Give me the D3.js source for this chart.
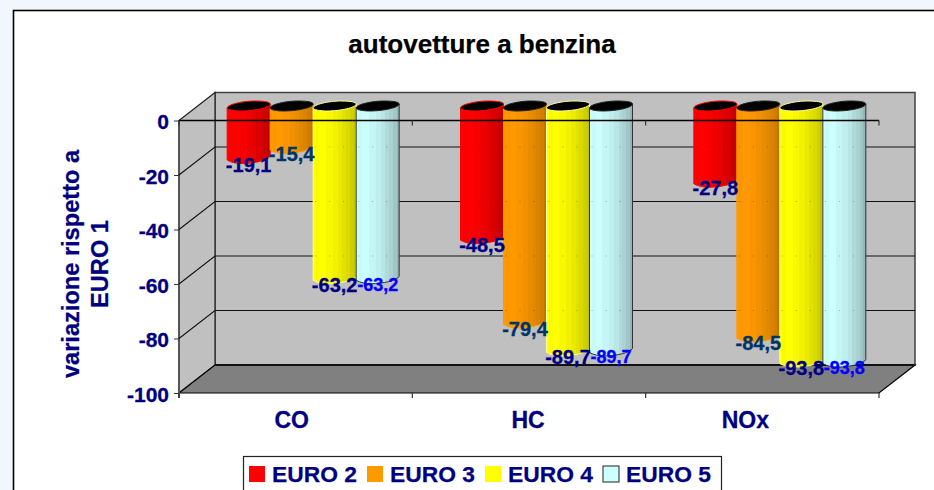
<!DOCTYPE html>
<html><head><meta charset="utf-8">
<script src="https://cdn.jsdelivr.net/npm/d3@7"></script>
<style>
html,body{margin:0;padding:0;background:#f2f7fd;overflow:hidden}
svg{display:block}
text{font-family:"Liberation Sans",Arial,sans-serif;font-weight:bold}
</style></head><body>
<div id="chart"></div>
<script>
const categories = ["CO","HC","NOx"];
const seriesNames = ["EURO 2","EURO 3","EURO 4","EURO 5"];
const euro2 = [-19.1,-48.5,-27.8];
const euro3 = [-15.4,-79.4,-84.5];
const euro4 = [-63.2,-89.7,-93.8];
const euro5 = [-63.2,-89.7,-93.8];
const seriesValues = [euro2,euro3,euro4,euro5];
const yTicks = [0,-20,-40,-60,-80,-100];
const baseColors = ["#ff0000","#ff9900","#ffff00","#ccffff"];
const darkColors = ["#b00000","#b86e00","#b8b800","#8aa8a8"];
const edgeColors = ["#ff0000","#ff9900","#ffff99","#333333"];
const labelColors = ["#000080","#003366","#000080","#0000ff"];
const labelSizes = [20,20,20,18];
const bandStops = [0,.06,.14,.3,.45,.58,.68,.76,.86,.94,1];
const bandShade = [0,.06,0,.1,.2,.3,.42,.52,.66,.85];
const categoryNudge = [-4,-1,-17];

const W=934,H=490, navy="#000080";
const depthX=36, depthY=-28;
const svg=d3.select("#chart").append("svg").attr("width",W).attr("height",H);
const defs=svg.append("defs");

const y=d3.scaleLinear().domain([0,-100]).range([120.5,393]);
const x=d3.scaleBand().domain(categories).range([179,879]);
const barBand=d3.scaleBand().domain(seriesNames).range([-86.5,85.5]);
const midX=depthX/2, midY=depthY/2;

// chart area
svg.append("rect").attr("x",13.5).attr("y",10.5).attr("width",W).attr("height",H)
  .attr("fill","#fff").attr("stroke","#000").attr("stroke-width",1.6);

svg.append("text").attr("x",482).attr("y",53).attr("text-anchor","middle")
  .attr("font-size",26).attr("fill","#000").attr("stroke","#000").attr("stroke-width",0.25).text("autovetture a benzina");

const x0=x.range()[0],x1=x.range()[1],yTop=y(0),yBot=y(-100);
const poly=p=>"M"+p.map(d=>d.join(",")).join("L")+"Z";
// back wall
svg.append("path").attr("d",poly([[x0+depthX,yTop+depthY],[x1+depthX,yTop+depthY],[x1+depthX,yBot+depthY],[x0+depthX,yBot+depthY]]))
  .attr("fill","#c0c0c0").attr("stroke","#404040").attr("stroke-width",1.5);
// side wall
svg.append("path").attr("d",poly([[x0,yTop],[x0+depthX,yTop+depthY],[x0+depthX,yBot+depthY],[x0,yBot]]))
  .attr("fill","#c0c0c0").attr("stroke","#222").attr("stroke-width",1.2);
// floor
svg.append("path").attr("d",poly([[x0,yBot],[x0+depthX,yBot+depthY],[x1+depthX,yBot+depthY],[x1,yBot]]))
  .attr("fill","#808080").attr("stroke","#000").attr("stroke-width",1.2);
svg.append("line").attr("x1",x0+depthX).attr("x2",x1+depthX).attr("y1",yBot+depthY).attr("y2",yBot+depthY)
  .attr("stroke","#111").attr("stroke-width",2);
svg.append("line").attr("x1",x0).attr("x2",x0).attr("y1",yTop).attr("y2",yBot+5)
  .attr("stroke","#555").attr("stroke-width",2);

// grid lines
const grid=svg.append("g").attr("fill","none").attr("stroke","#111").attr("stroke-width",1.1);
yTicks.filter(t=>t!==0&&t!==-100).forEach(t=>{
  grid.append("path").attr("d",`M${x0},${y(t)}L${x0+depthX},${y(t)+depthY}L${x1+depthX},${y(t)+depthY}`);
});

// gradients
seriesNames.forEach((s,i)=>{
  const g=defs.append("linearGradient").attr("id","band"+i);
  const c=d3.interpolateRgb(baseColors[i],darkColors[i]);
  bandShade.forEach((v,k)=>{
    g.append("stop").attr("offset",bandStops[k]).attr("stop-color",c(v));
    g.append("stop").attr("offset",bandStops[k+1]).attr("stop-color",c(v));
  });
});

// bars
const barsG=svg.append("g");
seriesNames.forEach((s,i)=>{
  categories.forEach((cat,j)=>{
    const v=seriesValues[i][j];
    const w=barBand.bandwidth();
    const cx=x(cat)+x.bandwidth()/2+midX+barBand(s)+w/2;
    const cy=y(0)+midY;
    const yb=y(v)+midY;
    const h=w/2;
    const g=barsG.append("g").attr("transform",`translate(${cx},0)`);
    g.append("path")
      .attr("d",`M${-h},${cy+1.5}L${-h},${yb+1.5}C${-h+4},${yb+4} ${-12},${yb+5} ${-6},${yb+5}C${4},${yb+5} ${h-2},${yb+2} ${h},${yb-2.5}L${h},${cy-2.5}Z`)
      .attr("fill",`url(#band${i})`).attr("stroke",edgeColors[i]).attr("stroke-width",1);
    // faint traces of the back grid showing through the bar
    yTicks.filter(t=>t!==0&&y(t)+depthY<yb-4).forEach(t=>{
      g.append("line").attr("x1",-h+2).attr("x2",h-1).attr("y1",y(t)+depthY).attr("y2",y(t)+depthY)
        .attr("stroke","#000").attr("stroke-opacity",.3).attr("stroke-dasharray","1 13");
    });
    g.append("path")
      .attr("d",`M${-h},${cy+1.5}C${-h},${cy-2} ${-6},${cy-5.5} 6,${cy-5.5}C16,${cy-5.5} ${h},${cy-4.5} ${h},${cy-2.5}C${h},${cy+1} ${6},${cy+4.5} ${-8},${cy+4.5}C${-14},${cy+4.5} ${-h},${cy+3.5} ${-h},${cy+1.5}Z`)
      .attr("fill","#000").attr("stroke",i===3||i===1?"#222":edgeColors[i]).attr("stroke-width",1);
  });
});

// front axis line at zero
svg.append("line").attr("x1",x0).attr("x2",x1).attr("y1",y(0)).attr("y2",y(0)).attr("stroke","#000").attr("stroke-width",1.3);

// category boundary ticks
const boundaries=[x0,...categories.map(c=>x(c)+x.bandwidth())];
[y(0),yBot].forEach(yy=>{
  svg.append("g").selectAll("line").data(boundaries).join("line")
    .attr("x1",d=>d).attr("x2",d=>d).attr("y1",yy).attr("y2",yy+5).attr("stroke","#333").attr("stroke-width",1.2);
});

// value axis
const ay=svg.append("g").attr("transform",`translate(${x0},0)`)
  .call(d3.axisLeft(y).tickValues(yTicks).tickSize(5).tickPadding(5).tickFormat(d=>String(d)));
ay.select(".domain").remove();
ay.selectAll("line").attr("stroke","#333");
ay.selectAll("text").attr("font-size",21).attr("fill",navy).attr("stroke",navy).attr("stroke-width",0.3)
  .attr("y",1.5)
  .style("font-family",'"Liberation Sans",Arial,sans-serif').style("font-weight","bold");

// category axis labels
const ax=svg.append("g").attr("transform",`translate(0,${yBot})`)
  .call(d3.axisBottom(x).tickSize(0).tickPadding(0));
ax.select(".domain").remove();
ax.selectAll("text").attr("font-size",23).attr("fill",navy).attr("stroke",navy).attr("stroke-width",0.3)
  .attr("y",19).attr("x",(d,i)=>categoryNudge[i])
  .style("font-family",'"Liberation Sans",Arial,sans-serif').style("font-weight","bold");

// axis title
[["variazione rispetto a",79],["EURO 1",108]].forEach(([t,px])=>{
  svg.append("text").attr("transform",`translate(${px},264) rotate(-90)`).attr("font-size",23.6)
    .attr("fill",navy).attr("stroke",navy).attr("stroke-width",0.25).attr("text-anchor","middle").text(t);
});

// data labels
seriesNames.forEach((s,i)=>{
  categories.forEach((cat,j)=>{
    const v=seriesValues[i][j];
    const w=barBand.bandwidth();
    const cx=x(cat)+x.bandwidth()/2+midX+barBand(s)+w/2;
    svg.append("text").attr("x",cx).attr("y",y(v)+midY+13+(i===3?-1:0))
      .attr("text-anchor","middle").attr("font-size",labelSizes[i]).attr("fill",labelColors[i])
      .attr("stroke",labelColors[i]).attr("stroke-width",0.3)
      .text(String(v).replace(".",","));
  });
});

// legend
const lg=svg.append("g");
lg.append("rect").attr("x",243.5).attr("y",456.5).attr("width",478).attr("height",50)
  .attr("fill","#fff").attr("stroke","#222").attr("stroke-width",1.2);
const legendX=d3.scaleBand().domain(seriesNames).range([249,721]);
seriesNames.forEach((s,i)=>{
  const lx=legendX(s);
  lg.append("rect").attr("x",lx).attr("y",466).attr("width",16).attr("height",16)
    .attr("fill",baseColors[i]).attr("stroke",i===3?"#222":"none").attr("stroke-width",1);
  lg.append("text").attr("x",lx+23).attr("y",482).attr("font-size",22.8).attr("fill",navy)
    .attr("stroke",navy).attr("stroke-width",0.25).text(s);
});
</script>
</body></html>
